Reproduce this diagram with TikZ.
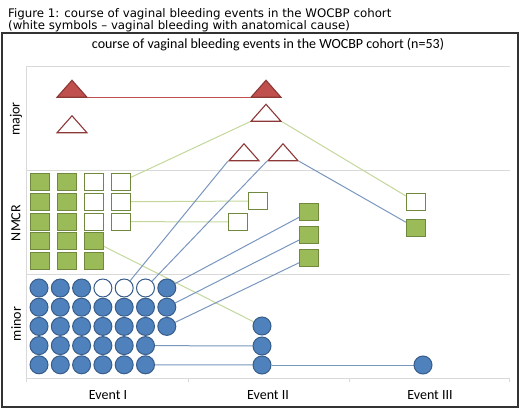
\documentclass[tikz,border=0pt]{standalone}
\usepackage{fontspec}
\setmainfont{Carlito}
\newfontfamily\capfont{DejaVu Sans}
\usetikzlibrary{shapes.geometric,backgrounds}
\definecolor{redfill}{HTML}{C0504D}
\definecolor{redline}{HTML}{8C3836}
\definecolor{greenfill}{HTML}{9BBB59}
\definecolor{greenline}{HTML}{71893F}
\definecolor{bluefill}{HTML}{4F81BD}
\definecolor{blueline}{HTML}{385D8A}
\definecolor{bluelink}{RGB}{120,150,190}
\definecolor{greenlink}{RGB}{196,215,155}
\tikzset{
  tri/.style={isosceles triangle, isosceles triangle stretches, shape border rotate=90,
    minimum width=30pt, minimum height=17pt, inner sep=0pt, draw=redline, line width=1.1pt},
  majfull/.style={tri, fill=redfill},
  majwhite/.style={tri, fill=white},
  sqbox/.style={rectangle, minimum width=19pt, minimum height=17pt, inner sep=0pt, draw=greenline, line width=1pt},
  nmfull/.style={sqbox, fill=greenfill},
  nmwhite/.style={sqbox, fill=white},
  dot/.style={circle, minimum size=18pt, inner sep=0pt, draw=blueline, line width=1pt},
  minfull/.style={dot, fill=bluefill},
  minwhite/.style={dot, fill=white},
  bluelk/.style={draw=bluelink, line width=1pt},
  greenlk/.style={draw=greenlink, line width=1pt},
  gridln/.style={draw=gray!30, line width=0.8pt},
  lbl/.style={font=\fontsize{14}{16}\selectfont, inner sep=0pt},
  caplbl/.style={anchor=base west, inner sep=0pt, font=\capfont\fontsize{11.8}{14}\selectfont}
}
\begin{document}
\begin{tikzpicture}[x=1pt,y=-1pt]
  \useasboundingbox (0,0) rectangle (520,409);
  % caption and frame
  \node[caplbl] (cap1) at (8,17.3) {Figure 1: course of vaginal bleeding events in the WOCBP cohort};
  \node[caplbl] (cap2) at (8,29.3) {(white symbols – vaginal bleeding with anatomical cause)};
  \draw[black!80, line width=1.2pt] (2,33) rectangle (518,407);
  \node[lbl] (title) at (268,45) {course of vaginal bleeding events in the WOCBP cohort (n=53)};
  % grid and axis
  \begin{pgfonlayer}{background}
    \foreach \y in {66,170,274,378} \draw[gridln] (26,\y) -- (510,\y);
    \draw[gridln] (26,66) -- (26,378);
    \foreach \x in {26,188,349,509} \draw[gridln] (\x,378) -- (\x,382);
  \end{pgfonlayer}
  \node[lbl, rotate=90] (lmajor) at (16,119) {major};
  \node[lbl, rotate=90] (lnmcr) at (16,223) {NMCR};
  \node[lbl, rotate=90] (lminor) at (16,324) {minor};
  \node[lbl] (ev1) at (108,395) {Event I};
  \node[lbl] (ev2) at (268,395) {Event II};
  \node[lbl] (ev3) at (430,395) {Event III};
  % major: triangles
  \node[majfull] (t1a) at (72,90.5) {};
  \node[majwhite] (t1b) at (72,126) {};
  \node[majfull] (t2a) at (266,90.5) {};
  \node[majwhite] (t2b) at (266,114.5) {};
  \node[majwhite] (t2c) at (244,154) {};
  \node[majwhite] (t2d) at (283,154) {};
  % NMCR: squares, event I
  \foreach \r in {1,...,5}
    \foreach \c in {1,...,4} {
      \pgfmathsetmacro\sx{40+27*(\c-1)}
      \pgfmathsetmacro\sy{182+19.8*(\r-1)}
      \ifnum\r<4
        \ifnum\c<3 \node[nmfull] (s-\r-\c) at (\sx,\sy) {};
        \else \node[nmwhite] (s-\r-\c) at (\sx,\sy) {}; \fi
      \else
        \ifnum\c<4 \node[nmfull] (s-\r-\c) at (\sx,\sy) {}; \fi
      \fi
    }
  \node[nmwhite] (s2a) at (258,201) {};
  \node[nmwhite] (s2b) at (238,222) {};
  \node[nmfull] (s2c) at (309,212) {};
  \node[nmfull] (s2d) at (309,235) {};
  \node[nmfull] (s2e) at (309,258) {};
  \node[nmwhite] (s3a) at (416,202) {};
  \node[nmfull] (s3b) at (416,228) {};
  % minor: circles, event I
  \foreach \r in {1,...,5}
    \foreach \c in {1,...,7} {
      \pgfmathsetmacro\cx{39+21.3*(\c-1)}
      \pgfmathsetmacro\cy{288+19.2*(\r-1)}
      \ifnum\r=1
        \ifnum\c>3 \ifnum\c<7 \node[minwhite] (c-\r-\c) at (\cx,\cy) {};
          \else \node[minfull] (c-\r-\c) at (\cx,\cy) {}; \fi
        \else \node[minfull] (c-\r-\c) at (\cx,\cy) {}; \fi
      \else
        \ifnum\r<4 \node[minfull] (c-\r-\c) at (\cx,\cy) {};
        \else \ifnum\c<7 \node[minfull] (c-\r-\c) at (\cx,\cy) {}; \fi \fi
      \fi
    }
  \node[minfull] (c2a) at (262,326) {};
  \node[minfull] (c2b) at (262,346) {};
  \node[minfull] (c2c) at (262,365) {};
  \node[minfull] (c3a) at (423,365) {};
  % connectors, behind the symbols
  \begin{pgfonlayer}{background}
    \draw[draw=redfill, line width=1pt] (t1a.right corner) -- (t2a.left corner);
    \draw[greenlk] (s-1-4) -- (t2b.left corner);
    \draw[greenlk] (s-2-4) -- (s2a);
    \draw[greenlk] (s-3-4) -- (s2b);
    \draw[greenlk] (t2b.right corner) -- (s3a);
    \draw[greenlk] (s-4-3) -- (c2a);
    \draw[bluelk] (c-1-5) -- (t2c.left corner);
    \draw[bluelk] (c-1-6) -- (t2d.left corner);
    \draw[bluelk] (t2d.right corner) -- (s3b);
    \draw[bluelk] (c-1-7) -- (s2c);
    \draw[bluelk] (c-2-7) -- (s2d);
    \draw[bluelk] (c-3-7) -- (s2e);
    \draw[bluelk] (c-4-6) -- (c2b);
    \draw[bluelk] (c-5-6) -- (c2c);
    \draw[bluelk] (c2c) -- (c3a);
  \end{pgfonlayer}
\end{tikzpicture}
\end{document}
